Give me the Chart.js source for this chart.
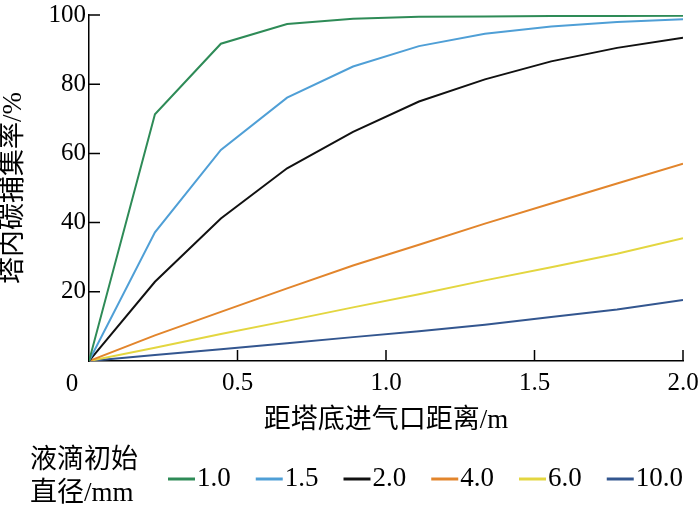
<!DOCTYPE html>
<html>
<head>
<meta charset="utf-8">
<script src="https://cdn.jsdelivr.net/npm/chart.js@4.4.1/dist/chart.umd.min.js"></script>
<style>
  html, body { margin: 0; padding: 0; background: #fff; }
  canvas { display: block; }
</style>
</head>
<body>
<canvas id="capture" width="700" height="509"></canvas>
<script>
// distance from the gas inlet at the tower bottom (m)
const distance = [0, 0.222, 0.444, 0.667, 0.889, 1.111, 1.333, 1.556, 1.778, 2.0];

// carbon capture efficiency inside the tower (%), one array per droplet diameter
const d10 = [0, 71.3, 91.7, 97.4, 98.9, 99.5, 99.6, 99.7, 99.7, 99.8];
const d15 = [0, 37.2, 61.0, 76.1, 85.1, 91.0, 94.6, 96.7, 98.0, 98.8];
const d20 = [0, 22.9, 41.2, 55.7, 66.2, 75.0, 81.4, 86.6, 90.5, 93.4];
const d40 = [0, 7.4, 14.2, 21.0, 27.6, 33.6, 39.7, 45.5, 51.3, 57.0];
const d60 = [0, 3.8, 7.8, 11.6, 15.5, 19.3, 23.3, 27.1, 31.0, 35.5];
const d100 = [0, 1.7, 3.4, 5.1, 6.9, 8.6, 10.5, 12.7, 14.9, 17.6];

const seriesLabels = ["1.0", "1.5", "2.0", "4.0", "6.0", "10.0"];
const seriesValues = [d10, d15, d20, d40, d60, d100];
const seriesColors = ["#2e8b57", "#4f9fd6", "#111111", "#e2852c", "#e3d640", "#33568f"];

const xTicks = [0, 0.5, 1.0, 1.5, 2.0];
const yTicks = [0, 20, 40, 60, 80, 100];

const legendTitle = ["液滴初始", "直径/mm"];
const xTitle = "距塔底进气口距离/m";
const yTitle = "塔内碳捕集率/%";

const FONT = "'Liberation Serif', 'Noto Sans CJK SC', serif";

// ticks pointing into the plot, the shared "0" and the bottom legend
const extras = {
  id: "extras",
  afterDraw(chart) {
    const { ctx, scales: { x, y } } = chart;
    ctx.save();
    ctx.strokeStyle = "#000";
    ctx.lineWidth = 1.5;
    ctx.beginPath();
    xTicks.slice(1).forEach(v => {
      const px = x.getPixelForValue(v);
      ctx.moveTo(px, y.bottom);
      ctx.lineTo(px, y.bottom - 11);
    });
    yTicks.slice(1).forEach(v => {
      const py = y.getPixelForValue(v);
      ctx.moveTo(x.left, py);
      ctx.lineTo(x.left + 11, py);
    });
    ctx.stroke();

    ctx.fillStyle = "#000";
    ctx.font = "25px " + FONT;
    ctx.textAlign = "center";
    ctx.textBaseline = "middle";
    ctx.fillText("0", x.left - 17, 384);

    // legend
    ctx.font = "27px " + FONT;
    ctx.textAlign = "left";
    ctx.fillText(legendTitle[0], 30, 461);
    ctx.fillText(legendTitle[1], 30, 494);

    let lx = 168;
    const ly = 479;
    seriesLabels.forEach((lab, i) => {
      ctx.strokeStyle = seriesColors[i];
      ctx.lineWidth = 3;
      ctx.beginPath();
      ctx.moveTo(lx, ly);
      ctx.lineTo(lx + 27, ly);
      ctx.stroke();
      ctx.fillText(lab, lx + 29, ly);
      lx += 27 + 2 + ctx.measureText(lab).width + 25;
    });
    ctx.restore();
  }
};

new Chart(document.getElementById("capture"), {
  type: "line",
  data: {
    datasets: seriesLabels.map((lab, i) => ({
      label: lab,
      data: distance.map((d, j) => ({ x: d, y: seriesValues[i][j] })),
      borderColor: seriesColors[i],
      backgroundColor: seriesColors[i],
      borderWidth: 2,
      pointRadius: 0,
      tension: 0,
      fill: false
    }))
  },
  options: {
    responsive: false,
    animation: false,
    layout: { padding: { top: 15, right: 17, left: 0, bottom: 0 } },
    plugins: {
      legend: { display: false },
      tooltip: { enabled: false }
    },
    scales: {
      x: {
        type: "linear",
        min: 0,
        max: 2,
        afterBuildTicks: s => { s.ticks = xTicks.map(v => ({ value: v })); },
        afterFit: s => { s.height = 148; s.paddingLeft = 0; s.paddingRight = 0; },
        ticks: {
          callback: v => v === 0 ? "" : v.toFixed(1),
          color: "#000",
          font: { family: FONT, size: 25 },
          padding: 7,
          maxRotation: 0,
          autoSkip: false
        },
        grid: { drawOnChartArea: false, drawTicks: false },
        border: { display: true, color: "#000", width: 1.5 },
        title: {
          display: true,
          text: xTitle,
          color: "#000",
          font: { family: FONT, size: 27, lineHeight: 1 },
          padding: { top: 0, bottom: 75 }
        }
      },
      y: {
        min: 0,
        max: 100,
        afterBuildTicks: s => { s.ticks = yTicks.map(v => ({ value: v })); },
        afterFit: s => { s.width = 89; s.paddingTop = 0; s.paddingBottom = 0; },
        ticks: {
          callback: v => v === 0 ? "" : v,
          color: "#000",
          font: { family: FONT, size: 25 },
          padding: 3
        },
        grid: { drawOnChartArea: false, drawTicks: false },
        border: { display: true, color: "#000", width: 1.5 },
        title: {
          display: true,
          text: yTitle,
          color: "#000",
          font: { family: FONT, size: 27, lineHeight: 1 },
          padding: 0
        }
      }
    }
  },
  plugins: [extras]
});
</script>
</body>
</html>
